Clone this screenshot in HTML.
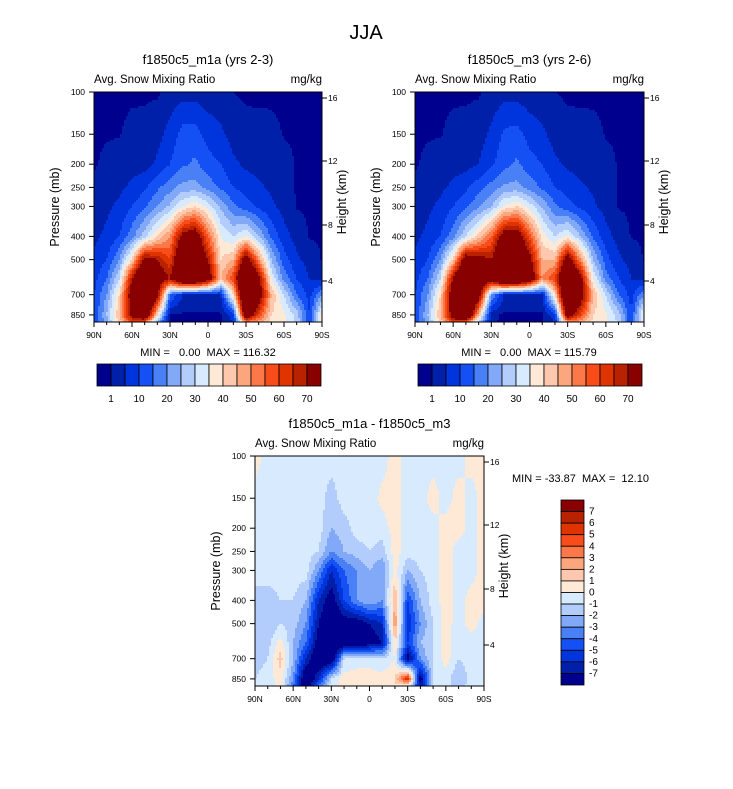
<!DOCTYPE html>
<html><head><meta charset="utf-8"><style>
body{margin:0;background:#fff}
svg text{font-family:"Liberation Sans",sans-serif;fill:#000;white-space:pre}
</style></head><body>
<svg id="s" width="733" height="784" viewBox="0 0 733 784" xmlns="http://www.w3.org/2000/svg">
<rect width="733" height="784" fill="#fff"/>
<text x="366" y="39" font-size="20" text-anchor="middle">JJA</text>
</svg>
<script>
const lats=[90,80,70,60,50,40,30,20,10,0,-10,-20,-30,-40,-50,-60,-70,-80,-90];
const pres=[100,150,200,250,300,400,500,600,700,850,1000];
const m1a=[
[0.3,0.3,0.3,0.4,0.5,0.6,2,3,3,2,2,1,0.5,0.4,0.3,0.3,0.3,0.3,0.3],
[0.5,0.6,0.8,2,2,3,7,12,12,8,6,3,2,2,2,0.8,0.6,0.5,0.4],
[0.5,2,3,3,3,6,10,14,16,12,10,6,4,3,3,2,0.8,0.5,0.3],
[2,3,4,6,9,14,18,22,22,18,14,10,8,6,4,2,0.8,0.5,0.4],
[3,4,6,10,14,20,26,35,40,33,24,16,12,9,6,3,0.8,0.6,0.5],
[4,6,10,18,28,40,50,75,80,55,35,30,35,25,14,7,3,0.8,0.6],
[6,10,20,40,75,70,60,90,90,70,40,45,80,50,25,12,6,3,0.8],
[8,15,30,70,100,80,70,95,95,80,45,60,100,75,35,18,10,5,3],
[10,20,40,80,100,75,15,5,5,5,5,40,100,80,45,30,15,8,20],
[10,25,45,75,90,40,1,0.5,0.5,0.5,0.5,8,85,60,40,36,28,10,38],
[10,20,35,40,10,1,0.5,0.5,0.5,0.5,0.5,1,10,30,35,36,30,10,38]];
const m3=[
[0.3,0.3,0.3,0.4,0.5,0.6,2,3,3,2,2,1,0.5,0.4,0.3,0.3,0.3,0.3,0.3],
[0.5,0.6,0.8,2,2,3,6,11,12,8,6,3,2,2,2,0.8,0.6,0.5,0.4],
[0.5,2,3,3,3,5,9,13,16,12,10,6,4,3,3,2,0.8,0.5,0.3],
[2,3,4,6,9,13,17,21,22,18,14,10,8,6,4,2,0.8,0.5,0.4],
[3,4,6,10,14,19,25,36,40,33,24,16,12,9,6,3,0.8,0.6,0.5],
[4,6,10,18,30,42,55,78,80,58,38,30,36,25,14,7,3,0.8,0.6],
[6,10,20,42,80,75,70,95,92,75,45,45,80,50,25,12,6,3,0.8],
[8,15,30,72,100,85,80,100,98,85,50,60,100,75,35,18,10,5,3],
[10,20,40,82,100,80,20,5,5,5,5,40,100,80,45,30,15,8,20],
[10,25,45,78,95,45,2,0.5,0.5,0.5,0.5,8,80,60,40,36,28,10,38],
[10,20,35,40,12,1,0.5,0.5,0.5,0.5,0.5,1,10,30,35,36,30,10,38]];
const diff=[
[0.5,-0.5,-0.5,-0.5,-0.5,-0.5,-0.5,-0.5,-0.5,-0.5,-0.5,0.5,-0.5,-0.5,-0.5,-0.5,-0.5,0.5,0.5],
[-0.5,-0.5,-0.5,-0.5,-0.5,-0.5,-1.5,-0.5,-0.5,-0.5,0.3,0.5,-0.5,-0.5,0.5,-0.5,0.5,-0.5,0.5],
[-0.5,-0.5,-0.5,-0.5,-0.5,-0.5,-2,-1.5,-0.5,-0.5,-0.5,0.5,-0.5,-0.5,-0.5,0.5,0.5,-0.5,0.5],
[-0.5,-0.5,-0.5,-0.5,-0.5,-1,-3,-2,-1.5,-1,-1.5,0.5,-0.5,-0.5,-0.5,0.5,-0.5,-0.5,0.5],
[-0.5,-0.5,-0.5,-0.5,-0.5,-3,-6,-4,-3,-2,-3,0.5,-2,-1,-0.5,0.5,-0.5,-0.5,0.5],
[-1.5,-1.5,-1,-1,-2,-6,-8,-5,-3,-2,-3,2,-5,-2,-0.5,0.5,-0.5,0.5,0.5],
[-2,-2,-1,-1.5,-3,-7,-9,-8,-8,-7,-6,3,-6,-3,-1,0.5,-0.5,0.5,-0.5],
[-2,-1.5,0.5,-2,-4,-8,-9,-9,-9,-8,-7,1,-5,-2,-1,0.5,-1,-0.5,-0.5],
[-1.5,-1,1.5,-2,-6,-9,-9,-1,-0.5,-0.5,-1,0,-8,-3,-1,0.5,-1,-0.5,-0.5],
[-1,-0.5,0.5,-3,-9,-6,-1,0.5,0.5,0.5,0.5,1,6,-8,-1,-0.5,-2,-0.5,-1],
[-1,-0.5,0.5,-5,-9,-1,0.5,0.5,0.5,0.5,0.5,1,-8,-5,-1,-0.5,-1,-0.5,-1]];
const colors=['#00008e','#0020aa','#0034dc','#1450f4','#4a80f6','#82a8f8','#b2ccfc','#d8eafe','#fee8d6','#fec8ae','#fca67e','#fc7848','#f84c1a','#e03400','#b82200','#880000'];
const levTop=[1,5,10,15,20,25,30,35,40,45,50,55,60,65,70];
const levDiff=[-7,-6,-5,-4,-3,-2,-1,0,1,2,3,4,5,6,7];
const barTopLabels=['1','10','20','30','40','50','60','70'];
const barDiffLabels=['7','6','5','4','3','2','1','0','-1','-2','-3','-4','-5','-6','-7'];
const pTicks=[100,150,200,250,300,400,500,700,850];
const hTicks=[16,12,8,4];
const hTickOff=[6,69,133,189];
const latTicks=[90,60,30,0,-30,-60,-90];
const latLabels=['90N','60N','30N','0','30S','60S','90S'];

const svg=document.getElementById('s');
const NS='http://www.w3.org/2000/svg';
function el(t,a,parent){const e=document.createElementNS(NS,t);for(const k in a)e.setAttribute(k,a[k]);(parent||svg).appendChild(e);return e;}
function txt(x,y,s,size,anchor,parent){const e=el('text',{x:x,y:y,'font-size':size,'text-anchor':anchor||'middle'},parent);e.textContent=s;return e;}
const PBOT=910;
function colorFor(v,lev){let i=0;while(i<lev.length&&v>=lev[i])i++;return colors[i];}
function sample(grid,fi,p){
  const lp=Math.log(p);let r=0;
  while(r<pres.length-2&&lp>Math.log(pres[r+1]))r++;
  let t=(lp-Math.log(pres[r]))/(Math.log(pres[r+1])-Math.log(pres[r]));t=Math.max(0,Math.min(1,t));
  let c=Math.min(Math.floor(fi),17);let u=fi-c;
  const a=grid[r][c]*(1-u)+grid[r][c+1]*u, b=grid[r+1][c]*(1-u)+grid[r+1][c+1]*u;
  return a*(1-t)+b*t;
}
function panel(name,x0,y0,w,h,grid,lev,title,sub){
  const g=el('g',{});
  
  
  const k=h/Math.log(PBOT/100);
  const xS=lat=>x0+(90-lat)/180*w;
  const yS=p=>y0+k*Math.log(p/100);
  const latInv=x=>90-(x-x0)/w*180;
  const pInv=y=>100*Math.exp((y-y0)/k);
  const step=2;
  const cells=el('g',{},g);
  
  
  function addCell(x1,x2,y,col){
    const r=el('rect',{x:x1,y:y,width:x2-x1+0.5,height:Math.min(step+0.5,y0+h-y),fill:col},cells);
    
    
  }
  for(let y=y0;y<y0+h;y+=step){
    const p=pInv(y+step/2);let runStart=x0,runCol=null;
    for(let x=x0;x<x0+w;x+=step){
      const fi=(90-latInv(Math.min(x+step/2,x0+w)))/10;
      const col=colorFor(sample(grid,Math.max(0,Math.min(18,fi)),p),lev);
      if(col!==runCol){
        if(runCol)addCell(runStart,x,y,runCol);
        runStart=x;runCol=col;
      }
    }
    if(runCol)addCell(runStart,x0+w,y,runCol);
  }
  const fr=el('rect',{x:x0,y:y0,width:w,height:h,fill:'none',stroke:'#000','stroke-width':1},g);
  
  
  pTicks.forEach(p=>{const y=yS(p);el('line',{x1:x0-5,x2:x0,y1:y,y2:y,stroke:'#000'},g);
    const t=txt(x0-9,y+3,String(p),8.5,'end',g);});
  hTicks.forEach((hv,i)=>{const y=y0+hTickOff[i];el('line',{x1:x0+w,x2:x0+w+5,y1:y,y2:y,stroke:'#000'},g);
    const t=txt(x0+w+6,y+3,String(hv),8.5,'start',g);});
  latTicks.forEach((l,i)=>{const x=xS(l);el('line',{x1:x,x2:x,y1:y0+h,y2:y0+h+5,stroke:'#000'},g);
    const t=txt(x,y0+h+16,latLabels[i],8.5,'middle',g);});
  for(let l=80;l>-90;l-=10){if(l%30){const x=xS(l);el('line',{x1:x,x2:x,y1:y0+h,y2:y0+h+3,stroke:'#000'},g);}}
  const t1=txt(x0+w/2,y0-28,title,13,'middle',g);
  const t2=txt(x0,y0-9,sub,11.5,'start',g);
  const t3=txt(x0+w,y0-9,'mg/kg',11.5,'end',g);
  const ya=txt(0,0,'Pressure (mb)',12.5,'middle',g);ya.setAttribute('transform',`translate(${x0-35},${y0+h/2}) rotate(-90)`);
  
  const yb=txt(0,0,'Height (km)',12.5,'middle',g);yb.setAttribute('transform',`translate(${x0+w+24},${y0+h/2-5}) rotate(-90)`);
  
}
panel('panel-m1a',94,92,228,230,m1a,levTop,'f1850c5_m1a (yrs 2-3)','Avg. Snow Mixing Ratio');
panel('panel-m3',415,92,229,230,m3,levTop,'f1850c5_m3 (yrs 2-6)','Avg. Snow Mixing Ratio');
panel('panel-diff',255,456,229,230,diff,levDiff,'f1850c5_m1a - f1850c5_m3','Avg. Snow Mixing Ratio');
[[208,'MIN =   0.00  MAX = 116.32'],[529,'MIN =   0.00  MAX = 115.79']].forEach(([x,s])=>{const t=txt(x,356,s,11,'middle');});
const md=txt(512,482,'MIN = -33.87  MAX =  12.10',11,'start');
function hbar(name,x0){
  const g=el('g',{});
  const bw=14;
  colors.forEach((c,i)=>{const r=el('rect',{x:x0+i*bw,y:364,width:bw,height:22,fill:c,stroke:'#000','stroke-width':0.8},g);
    });
  barTopLabels.forEach((s,i)=>{const t=txt(x0+bw*(1+2*i),402,s,10,'middle',g);});
}
hbar('colorbar-m1a',97);hbar('colorbar-m3',418);
(function(){
  const g=el('g',{});
  const y0=500,bh=185/16;
  colors.slice().reverse().forEach((c,i)=>{const r=el('rect',{x:561,y:y0+i*bh,width:23,height:bh,fill:c,stroke:'#000','stroke-width':0.8},g);
    });
  barDiffLabels.forEach((s,i)=>{const t=txt(589,y0+bh*(i+1)+3,s,10,'start',g);});
})();
</script>
</body></html>
